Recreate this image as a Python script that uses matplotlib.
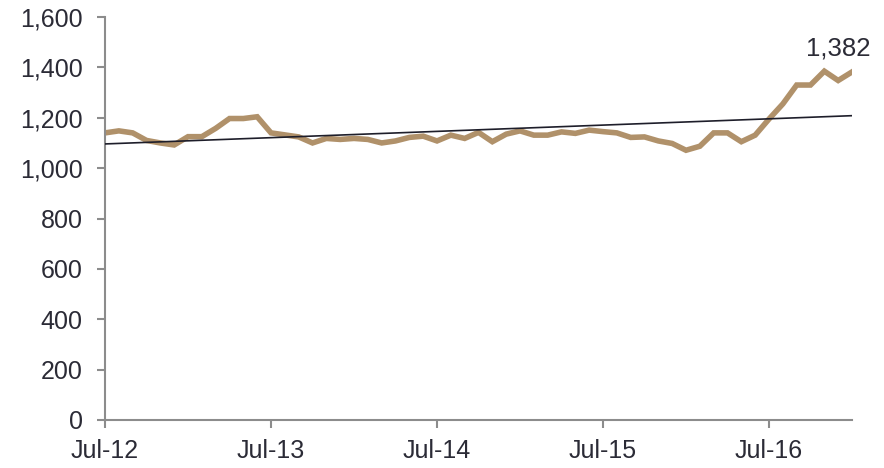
import numpy as np
import pandas as pd
import matplotlib
matplotlib.use("Agg")
import matplotlib.pyplot as plt
from matplotlib.ticker import FuncFormatter

months = pd.date_range("2012-07-01", "2017-01-01", freq="MS")
values = [1140, 1148, 1140, 1110, 1100, 1092, 1125, 1125, 1158, 1197, 1197, 1204,
          1140, 1132, 1124, 1100, 1118, 1114, 1118, 1114, 1100, 1108, 1122, 1127,
          1108, 1131, 1118, 1142, 1105, 1135, 1148, 1131, 1131, 1144, 1138, 1151,
          1145, 1140, 1122, 1124, 1108, 1098, 1071, 1087, 1140, 1140, 1105, 1131,
          1195, 1255, 1330, 1330, 1385, 1348, 1382]
tick_labels = ["Jul-12", "Jul-13", "Jul-14", "Jul-15", "Jul-16"]
last_label = "1,382"

plt.rcParams["font.family"] = ["Liberation Sans", "DejaVu Sans"]
text_color = "#2b2b36"
axis_color = "#8c8c8c"

# linear trend over the monthly series
x = np.arange(len(values))
slope, intercept = np.polyfit(x, values, 1)

fig = plt.figure(figsize=(8.84, 4.68), dpi=100)
ax = fig.add_axes([0.1188, 0.1026, 0.845, 0.861])

ax.plot(x, values, color="#b0916a", lw=4.0, solid_joinstyle="miter", zorder=2)
ax.plot(x, intercept + slope * x, color="#1e1e2a", lw=1.2, zorder=3)

ax.annotate(last_label, (x[-1], values[-1]), xytext=(13, 8), textcoords="offset points",
            ha="right", va="bottom", fontsize=18.5, color=text_color)

ax.set_xlim(0, len(values) - 1)
ax.set_ylim(0, 1600)
ax.set_yticks(range(0, 1601, 200))
ax.yaxis.set_major_formatter(FuncFormatter(lambda v, p: f"{int(v):,}"))
ax.set_xticks([0, 12, 24, 36, 48])
ax.set_xticklabels(tick_labels)

for s in ["top", "right"]:
    ax.spines[s].set_visible(False)
for s in ["left", "bottom"]:
    ax.spines[s].set_color(axis_color)
    ax.spines[s].set_linewidth(1.5)
ax.tick_params(axis="both", colors=axis_color, width=1.5, length=6, labelsize=18,
               labelcolor=text_color, direction="out")
ax.tick_params(axis="y", pad=10)
ax.tick_params(axis="x", pad=8)

fig.savefig("out.png", dpi=100)
